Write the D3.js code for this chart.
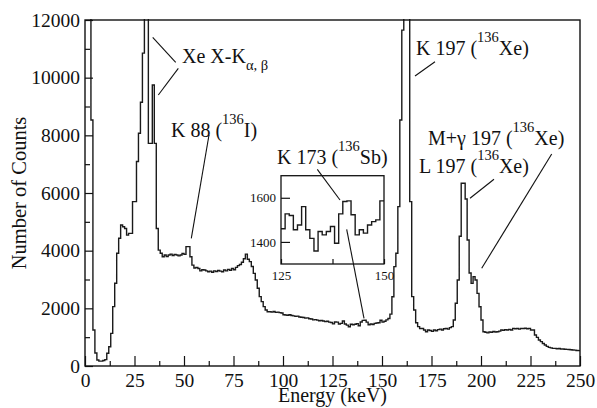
<!DOCTYPE html>
<html>
<head>
<meta charset="utf-8">
<script src="https://cdn.jsdelivr.net/npm/d3@7"></script>
<style>
  body { margin: 0; background: #fff; }
  svg { font-family: "Liberation Serif", "Times New Roman", serif; }
  .hist { fill: none; stroke: #1a1a1a; stroke-width: 1.4; }
  .lead { stroke: #111; stroke-width: 1.1; }
</style>
</head>
<body>
<svg width="597" height="408"></svg>
<script>
// counts per 1 keV bin, 0..249 keV
let counts = [
  15000, 15000, 15000, 8530, 1250, 450, 210, 170, 170, 190,      // 0
  220, 440, 670, 1130, 2060, 2870, 3910, 4430, 4890, 4830,       // 10
  4770, 4540, 4600, 4600, 5700, 5700, 7090, 8070, 9150, 10850,   // 20
  30000, 30000, 7720, 7720, 9745, 7720, 4770, 4020, 3910, 3790,  // 30
  3850, 3800, 3850, 3880, 3830, 3870, 3850, 3820, 3850, 3900,    // 40
  3870, 4140, 4140, 3790, 3500, 3400, 3420, 3380, 3300, 3340,    // 50
  3330, 3300, 3270, 3290, 3250, 3300, 3280, 3310, 3290, 3270,    // 60
  3330, 3300, 3350, 3320, 3380, 3340, 3420, 3480, 3520, 3600,    // 70
  3720, 3880, 3700, 3620, 3450, 3213, 2982, 2694, 2405, 2231,    // 80
  2058, 1942, 1884, 1880, 1870, 1890, 1860, 1870, 1850, 1840,    // 90
  1780, 1770, 1760, 1780, 1750, 1740, 1720, 1730, 1700, 1690,    // 100
  1680, 1660, 1670, 1640, 1630, 1600, 1610, 1590, 1570, 1580,    // 110
  1560, 1540, 1550, 1520, 1510, 1460, 1527, 1520, 1455, 1477,    // 120
  1560, 1455, 1416, 1359, 1447, 1432, 1447, 1470, 1394, 1527,    // 130
  1583, 1586, 1523, 1432, 1455, 1440, 1477, 1492, 1500, 1586,    // 140
  1520, 1550, 1600, 1650, 1800, 2400, 3445, 3908, 5526, 8532,    // 150
  11650, 30000, 30000, 30000, 5700, 2405, 1942, 1500, 1364, 1300, // 160
  1300, 1250, 1190, 1250, 1230, 1200, 1250, 1220, 1260, 1280,    // 170
  1250, 1290, 1300, 1280, 1330, 1364, 1595, 2174, 2983, 4500,    // 180
  6336, 6336, 5790, 4370, 3225, 2867, 3100, 2983, 2520, 2057,    // 190
  1595, 1190, 1170, 1150, 1180, 1170, 1200, 1180, 1190, 1210,    // 200
  1250, 1240, 1260, 1250, 1270, 1250, 1306, 1290, 1300, 1280,    // 210
  1306, 1300, 1310, 1290, 1306, 1250, 1250, 1075, 994, 900,      // 220
  844, 780, 728, 680, 647, 630, 613, 610, 600, 605,              // 230
  590, 590, 580, 575, 570, 565, 555, 550, 540, 532               // 240
];
let binWidth = 1;

let xTicks = [0, 25, 50, 75, 100, 125, 150, 175, 200, 225, 250];
let xMinor = [12.5, 37.5, 62.5, 87.5, 112.5, 137.5, 162.5, 187.5, 212.5, 237.5];
let yTicks = [0, 2000, 4000, 6000, 8000, 10000, 12000];
let yMinor = [1000, 3000, 5000, 7000, 9000, 11000];

// inset zoom window
let insetRange = [125, 150];
let insetYTicks = [1400, 1600];
let insetXTicks = [125, 137.5, 150];

var svg = d3.select("svg");
var mLeft = 85, mRight = 580, mTop = 20, mBottom = 366;

var x = d3.scaleLinear().domain([0, 250]).range([mLeft, mRight]);
var y = d3.scaleLinear().domain([0, 12000]).range([mBottom, mTop]);
var fmt = d3.format("d");

function stepPoints(lo, hi) {
  let pts = [];
  for (let i = lo; i < hi; i++) pts.push([i * binWidth, counts[i]]);
  pts.push([hi * binWidth, counts[hi - 1]]);
  return pts;
}

svg.append("clipPath").attr("id", "clipMain")
  .append("rect").attr("x", mLeft).attr("y", mTop - 1)
  .attr("width", mRight - mLeft).attr("height", mBottom - mTop + 1);

var line = d3.line()
  .x(d => x(d[0]))
  .y(d => y(d[1]))
  .curve(d3.curveStepAfter);

svg.append("path")
  .attr("class", "hist")
  .attr("clip-path", "url(#clipMain)")
  .attr("d", line(stepPoints(0, counts.length)));

// axes
var xAxis = d3.axisBottom(x).tickValues(xTicks).tickSizeInner(-10).tickSizeOuter(0).tickPadding(7).tickFormat(fmt);
var xAxisMinor = d3.axisBottom(x).tickValues(xMinor).tickSizeInner(-5).tickSizeOuter(0).tickFormat("");
var yAxis = d3.axisLeft(y).tickValues(yTicks).tickSizeInner(-8).tickSizeOuter(0).tickPadding(5).tickFormat(fmt);
var yAxisMinor = d3.axisLeft(y).tickValues(yMinor).tickSizeInner(-5).tickSizeOuter(0).tickFormat("");

function styleAxis(g, fs) {
  g.selectAll("text").attr("font-family", "Liberation Serif, Times New Roman, serif")
    .attr("font-size", fs).attr("fill", "#111");
  g.selectAll("line").attr("stroke", "#111").attr("stroke-width", 1.2);
  g.select(".domain").remove();
}

svg.append("g").attr("transform", `translate(0,${mBottom})`).call(xAxis).call(g => styleAxis(g, 19.5));
svg.append("g").attr("transform", `translate(0,${mBottom})`).call(xAxisMinor).call(g => styleAxis(g, 19.5));
svg.append("g").attr("transform", `translate(${mLeft},0)`).call(yAxis).call(g => styleAxis(g, 19.5));
svg.append("g").attr("transform", `translate(${mLeft},0)`).call(yAxisMinor).call(g => styleAxis(g, 19.5));

// frame
svg.append("rect")
  .attr("x", mLeft).attr("y", mTop)
  .attr("width", mRight - mLeft).attr("height", mBottom - mTop)
  .attr("fill", "none").attr("stroke", "#111").attr("stroke-width", 1.4);

// axis titles
svg.append("text")
  .attr("x", (mLeft + mRight) / 2).attr("y", 402)
  .attr("text-anchor", "middle").attr("font-size", 20).attr("fill", "#111")
  .text("Energy (keV)");

svg.append("text")
  .attr("transform", `translate(25.5,${(mTop + mBottom) / 2}) rotate(-90)`)
  .attr("text-anchor", "middle").attr("font-size", 20.5).attr("fill", "#111")
  .text("Number of Counts");

// inset
var ix = d3.scaleLinear().domain(insetRange).range([281, 384]);
var iy = d3.scaleLinear().domain([1300, 1700]).range([264, 175.7]);

svg.append("rect")
  .attr("x", 281).attr("y", 175.7).attr("width", 103).attr("height", 88.3)
  .attr("fill", "#fff").attr("stroke", "none");

svg.append("clipPath").attr("id", "clipInset")
  .append("rect").attr("x", 281).attr("y", 175.7).attr("width", 103).attr("height", 88.3);

var iline = d3.line()
  .x(d => ix(d[0]))
  .y(d => iy(d[1]))
  .curve(d3.curveStepAfter);

svg.append("path")
  .attr("class", "hist")
  .attr("clip-path", "url(#clipInset)")
  .attr("d", iline(stepPoints(insetRange[0], insetRange[1])));

var ixAxis = d3.axisBottom(ix).tickValues(insetXTicks).tickSizeInner(-5).tickSizeOuter(0).tickPadding(7)
  .tickFormat(d => d % 1 === 0 ? fmt(d) : "");
var iyAxis = d3.axisLeft(iy).tickValues(insetYTicks).tickSizeInner(-9).tickSizeOuter(0).tickPadding(5).tickFormat(fmt);
svg.append("g").attr("transform", "translate(0,264)").call(ixAxis).call(g => styleAxis(g, 13));
svg.append("g").attr("transform", "translate(281,0)").call(iyAxis).call(g => styleAxis(g, 13));

svg.append("rect")
  .attr("x", 281).attr("y", 175.7).attr("width", 103).attr("height", 88.3)
  .attr("fill", "none").attr("stroke", "#111").attr("stroke-width", 1.3);

// annotations
function label(px, py, parts) {
  let t = svg.append("text").attr("x", px).attr("y", py)
    .attr("font-size", 20).attr("fill", "#111");
  let shift = 0;
  parts.forEach(p => {
    let target = p.sup ? -13 : p.sub ? 7 : 0;
    t.append("tspan")
      .attr("dy", target - shift)
      .attr("font-size", (p.sup || p.sub) ? 14.5 : 20)
      .text(p.t);
    shift = target;
  });
}

label(182, 63, [{ t: "Xe X-K" }, { t: "α, β", sub: true }]);
label(171, 137, [{ t: "K 88 (" }, { t: "136", sup: true }, { t: "I)" }]);
label(416, 55, [{ t: "K 197 (" }, { t: "136", sup: true }, { t: "Xe)" }]);
label(428, 145, [{ t: "M+γ 197 (" }, { t: "136", sup: true }, { t: "Xe)" }]);
label(419, 172.5, [{ t: "L 197 (" }, { t: "136", sup: true }, { t: "Xe)" }]);
label(277, 163.5, [{ t: "K 173 (" }, { t: "136", sup: true }, { t: "Sb)" }]);

let leaders = [
  [152.7, 37.3, 175.7, 62.3],
  [178.3, 68.3, 158.3, 95],
  [209, 135, 191.3, 238.3],
  [435, 61.7, 415, 76],
  [494, 179.3, 470, 198.3],
  [551.7, 154, 481.7, 268.3],
  [317.3, 169.3, 340, 200],
  [346.7, 229.3, 364, 318.3]
];
svg.selectAll(".lead").data(leaders).enter().append("line")
  .attr("class", "lead")
  .attr("x1", d => d[0]).attr("y1", d => d[1])
  .attr("x2", d => d[2]).attr("y2", d => d[3]);
</script>
</body>
</html>
